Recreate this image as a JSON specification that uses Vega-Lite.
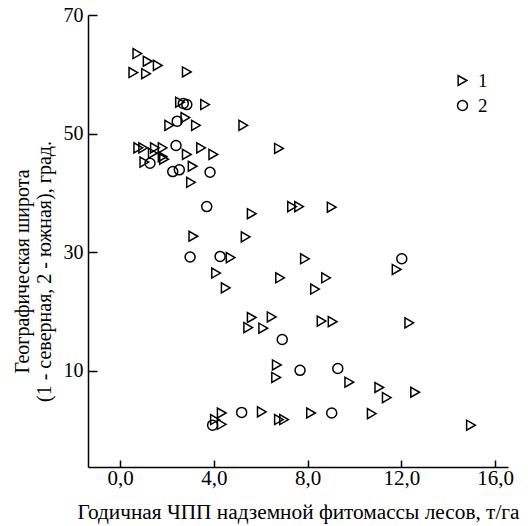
{
  "$schema": "https://vega.github.io/schema/vega-lite/v6.json",
  "width": 420,
  "height": 452,
  "autosize": "none",
  "padding": {"left": 88, "top": 15, "right": 20, "bottom": 59},
  "background": "white",
  "config": {
    "view": {"stroke": null},
    "font": "Liberation Serif",
    "axis": {
      "grid": false,
      "domainColor": "black",
      "domainWidth": 1.5,
      "tickColor": "black",
      "tickWidth": 1.5,
      "labelColor": "black",
      "labelFont": "Liberation Serif",
      "labelFontSize": 20,
      "titleFont": "Liberation Serif",
      "titleFontSize": 20,
      "titleFontWeight": "normal",
      "titleColor": "black"
    }
  },
  "data": {
    "values": [
      {"x": 0.74, "y": 63.5, "g": "1"},
      {"x": 1.18, "y": 62.2, "g": "1"},
      {"x": 1.61, "y": 61.5, "g": "1"},
      {"x": 0.57, "y": 60.3, "g": "1"},
      {"x": 1.11, "y": 60.1, "g": "1"},
      {"x": 2.85, "y": 60.4, "g": "1"},
      {"x": 2.56, "y": 55.3, "g": "1"},
      {"x": 3.63, "y": 54.9, "g": "1"},
      {"x": 2.10, "y": 51.4, "g": "1"},
      {"x": 2.79, "y": 52.7, "g": "1"},
      {"x": 3.24, "y": 51.4, "g": "1"},
      {"x": 5.26, "y": 51.4, "g": "1"},
      {"x": 0.78, "y": 47.6, "g": "1"},
      {"x": 0.99, "y": 47.6, "g": "1"},
      {"x": 1.49, "y": 47.6, "g": "1"},
      {"x": 1.82, "y": 47.6, "g": "1"},
      {"x": 2.85, "y": 46.5, "g": "1"},
      {"x": 3.46, "y": 47.6, "g": "1"},
      {"x": 3.98, "y": 46.5, "g": "1"},
      {"x": 6.78, "y": 47.5, "g": "1"},
      {"x": 1.04, "y": 45.2, "g": "1"},
      {"x": 1.40, "y": 46.7, "g": "1"},
      {"x": 1.82, "y": 46.1, "g": "1"},
      {"x": 1.88, "y": 45.7, "g": "1"},
      {"x": 3.10, "y": 44.5, "g": "1"},
      {"x": 3.03, "y": 41.8, "g": "1"},
      {"x": 7.34, "y": 37.7, "g": "1"},
      {"x": 7.64, "y": 37.7, "g": "1"},
      {"x": 9.03, "y": 37.6, "g": "1"},
      {"x": 5.62, "y": 36.5, "g": "1"},
      {"x": 3.13, "y": 32.7, "g": "1"},
      {"x": 5.36, "y": 32.6, "g": "1"},
      {"x": 4.72, "y": 29.1, "g": "1"},
      {"x": 4.10, "y": 26.5, "g": "1"},
      {"x": 6.83, "y": 25.7, "g": "1"},
      {"x": 4.51, "y": 24.0, "g": "1"},
      {"x": 7.89, "y": 28.9, "g": "1"},
      {"x": 11.80, "y": 27.1, "g": "1"},
      {"x": 8.79, "y": 25.7, "g": "1"},
      {"x": 8.32, "y": 23.8, "g": "1"},
      {"x": 5.62, "y": 19.0, "g": "1"},
      {"x": 6.47, "y": 19.1, "g": "1"},
      {"x": 5.47, "y": 17.3, "g": "1"},
      {"x": 6.11, "y": 17.2, "g": "1"},
      {"x": 8.60, "y": 18.4, "g": "1"},
      {"x": 9.07, "y": 18.3, "g": "1"},
      {"x": 12.34, "y": 18.1, "g": "1"},
      {"x": 6.69, "y": 11.0, "g": "1"},
      {"x": 6.66, "y": 8.9, "g": "1"},
      {"x": 9.78, "y": 8.1, "g": "1"},
      {"x": 11.06, "y": 7.2, "g": "1"},
      {"x": 11.38, "y": 5.5, "g": "1"},
      {"x": 12.59, "y": 6.4, "g": "1"},
      {"x": 4.34, "y": 2.9, "g": "1"},
      {"x": 4.05, "y": 1.8, "g": "1"},
      {"x": 4.34, "y": 1.0, "g": "1"},
      {"x": 6.05, "y": 3.1, "g": "1"},
      {"x": 6.78, "y": 1.8, "g": "1"},
      {"x": 7.00, "y": 1.8, "g": "1"},
      {"x": 8.15, "y": 2.9, "g": "1"},
      {"x": 10.74, "y": 2.8, "g": "1"},
      {"x": 14.97, "y": 0.85, "g": "1"},
      {"x": 2.70, "y": 55.1, "g": "2"},
      {"x": 2.85, "y": 54.9, "g": "2"},
      {"x": 2.44, "y": 52.1, "g": "2"},
      {"x": 2.39, "y": 48.0, "g": "2"},
      {"x": 1.28, "y": 45.0, "g": "2"},
      {"x": 2.25, "y": 43.6, "g": "2"},
      {"x": 2.53, "y": 43.9, "g": "2"},
      {"x": 3.84, "y": 43.5, "g": "2"},
      {"x": 3.70, "y": 37.7, "g": "2"},
      {"x": 2.99, "y": 29.2, "g": "2"},
      {"x": 4.27, "y": 29.3, "g": "2"},
      {"x": 6.92, "y": 15.3, "g": "2"},
      {"x": 3.95, "y": 0.85, "g": "2"},
      {"x": 5.19, "y": 3.0, "g": "2"},
      {"x": 12.02, "y": 28.9, "g": "2"},
      {"x": 7.68, "y": 10.1, "g": "2"},
      {"x": 9.29, "y": 10.4, "g": "2"},
      {"x": 9.03, "y": 2.9, "g": "2"}
    ]
  },
  "mark": {"type": "point", "filled": false, "strokeWidth": 1.5, "opacity": 1},
  "encoding": {
    "x": {
      "field": "x",
      "type": "quantitative",
      "scale": {"domain": [-1.365, 16.55], "nice": false, "zero": false},
      "axis": {
        "values": [0, 4, 8, 12, 16],
        "labelExpr": "replace(format(datum.value, '.1f'), '.', ',')",
        "tickSize": -7,
        "labelPadding": 7,
        "labelBaseline": "top",
        "labelFontSize": 21,
        "title": "Годичная ЧПП надземной фитомассы лесов, т/га",
        "titleFontSize": 21.3,
        "titleY": 51,
        "titleBaseline": "alphabetic"
      }
    },
    "y": {
      "field": "y",
      "type": "quantitative",
      "scale": {"domain": [-6.2, 70], "nice": false, "zero": false},
      "axis": {
        "values": [10, 30, 50, 70],
        "tickSize": -9,
        "labelPadding": 14,
        "title": ["Географическая широта", "(1 - северная, 2 - южная), град."],
        "titleAngle": -90,
        "titleAlign": "center",
        "titleBaseline": "middle",
        "titleLineHeight": 22,
        "titleX": -66,
        "titleY": 256
      }
    },
    "shape": {
      "field": "g",
      "type": "nominal",
      "scale": {"domain": ["1", "2"], "range": ["triangle-right", "circle"]},
      "legend": {
        "title": null,
        "orient": "none",
        "legendX": 365,
        "legendY": 56,
        "padding": 0,
        "symbolSize": 100,
        "symbolStrokeWidth": 1.5,
        "symbolStrokeColor": "black",
        "symbolFillColor": "transparent",
        "labelFont": "Liberation Serif",
        "labelFontSize": 19,
        "labelColor": "black",
        "labelOffset": 6,
        "rowPadding": 5
      }
    },
    "size": {"value": 100},
    "color": {"value": "black"}
  }
}
